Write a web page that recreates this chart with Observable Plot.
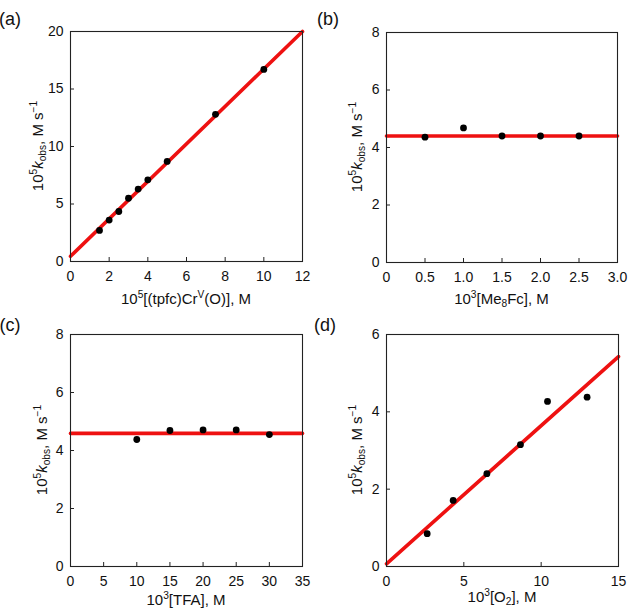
<!DOCTYPE html>
<html><head><meta charset="utf-8">
<script src="https://cdn.jsdelivr.net/npm/d3@7"></script>
<script src="https://cdn.jsdelivr.net/npm/@observablehq/plot@0.6"></script>
<style>
body{margin:0;background:#fff}
#wrap{position:relative;width:629px;height:608px;font-family:"Liberation Sans",Arial,Helvetica,sans-serif}
#wrap svg{position:absolute;overflow:visible}
</style>
</head><body><div id="wrap"></div>
<script>
// Panel (a)
const aX = [1.5, 2, 2.5, 3, 3.5, 4, 5, 7.5, 10];
const aY = [2.7, 3.6, 4.35, 5.5, 6.3, 7.1, 8.7, 12.8, 16.7];
const aFitX = [0, 12], aFitY = [0.45, 20];
const aXTicks = [0, 2, 4, 6, 8, 10, 12], aYTicks = [0, 5, 10, 15, 20];
// Panel (b)
const bX = [0.5, 1.0, 1.5, 2.0, 2.5];
const bY = [4.36, 4.68, 4.4, 4.4, 4.4];
const bFitX = [0, 3], bFitY = [4.4, 4.4];
const bXTicks = [0, 0.5, 1.0, 1.5, 2.0, 2.5, 3.0], bYTicks = [0, 2, 4, 6, 8];
// Panel (c)
const cX = [10, 15, 20, 25, 30];
const cY = [4.38, 4.69, 4.71, 4.71, 4.55];
const cFitX = [0, 35], cFitY = [4.59, 4.59];
const cXTicks = [0, 5, 10, 15, 20, 25, 30, 35], cYTicks = [0, 2, 4, 6, 8];
// Panel (d)
const dX = [2.63, 4.31, 6.49, 8.66, 10.41, 12.97];
const dY = [0.85, 1.71, 2.40, 3.15, 4.27, 4.38];
const dFitX = [0, 15], dFitY = [0.07, 5.43];
const dXTicks = [0, 5, 10, 15], dYTicks = [0, 2, 4, 6];

const yTitle = [["10","n"],["5","sup"],["k","i"],["obs","sub"],[", M s","n"],["\u22121","sup"]];

function rich(sel, parts, fs) {
  let off = 0;
  for (const [t, k] of parts) {
    const target = k === "sup" ? -0.42 * fs : k === "sub" ? 0.22 * fs : 0;
    const ts = sel.append("tspan").text(t).attr("dy", target - off);
    if (k === "sup" || k === "sub") ts.attr("font-size", fs * 0.68);
    if (k === "i") ts.attr("font-style", "italic");
    off = target;
  }
}

function panel(o) {
  const pw = o.w - o.ml - o.mr, ph = o.h - o.mt - o.mb;
  const pts = o.xs.map((x, i) => ({x, y: o.ys[i]}));
  const fit = o.fx.map((x, i) => ({x, y: o.fy[i]}));
  const chart = Plot.plot({
    width: o.w, height: o.h,
    marginLeft: o.ml, marginRight: o.mr, marginTop: o.mt, marginBottom: o.mb,
    style: {fontSize: "14px", fontFamily: "'Liberation Sans', Arial, sans-serif", color: "#111", background: "transparent", overflow: "visible"},
    x: {domain: o.xd, ticks: o.xt, tickSize: 0, tickPadding: 10, tickFormat: o.xf || (d => String(d)), label: null},
    y: {domain: o.yd, ticks: o.yt, tickSize: 0, tickPadding: 7, tickFormat: d => String(d), label: null},
    marks: [
      Plot.ruleX(o.xt, {x: d => d, stroke: "#222", insetTop: ph - 4}),
      Plot.ruleY(o.yt, {y: d => d, stroke: "#222", insetRight: pw - 4}),
      Plot.line(fit, {x: "x", y: "y", stroke: "#ee1111", strokeWidth: 3.6}),
      Plot.dot(pts, {x: "x", y: "y", r: 3.4, fill: "#000"}),
      Plot.frame({stroke: "#222", strokeWidth: 1.1})
    ]
  });
  chart.style.left = o.left + "px";
  chart.style.top = o.top + "px";
  document.getElementById("wrap").appendChild(chart);
  const svg = d3.select(chart);
  const ff = "'Liberation Sans', Arial, sans-serif";
  const xt = svg.append("text").attr("x", o.ml + pw / 2).attr("y", o.xb)
    .attr("text-anchor", "middle").attr("font-size", 15).attr("font-family", ff).attr("fill", "#111");
  rich(xt, o.xl, 15);
  const yt = svg.append("text").attr("transform", `translate(${o.yb},${o.mt + ph / 2}) rotate(-90)`)
    .attr("text-anchor", "middle").attr("font-size", 15).attr("font-family", ff).attr("fill", "#111");
  rich(yt, yTitle, 15);
  svg.append("text").attr("x", o.lx).attr("y", o.ly).attr("font-size", 18).attr("font-family", ff)
    .attr("fill", "#111").text(o.letter);
}

panel({left: 0, top: 0, w: 314, h: 310, ml: 70, mr: 12, mt: 31, mb: 49,
  xd: [0, 12], yd: [0, 20], xt: aXTicks, yt: aYTicks, xs: aX, ys: aY, fx: aFitX, fy: aFitY,
  xl: [["10","n"],["5","sup"],["[(tpfc)Cr","n"],["V","sup"],["(O)], M","n"]],
  xb: 304, yb: 43, letter: "(a)", lx: 10, ly: 25});
panel({left: 314, top: 0, w: 315, h: 310, ml: 72, mr: 12, mt: 32, mb: 48,
  xd: [0, 3], yd: [0, 8], xt: bXTicks, yt: bYTicks, xs: bX, ys: bY, fx: bFitX, fy: bFitY,
  xf: d => d === 0 ? "0" : d.toFixed(1),
  xl: [["10","n"],["3","sup"],["[Me","n"],["8","sub"],["Fc], M","n"]],
  xb: 304, yb: 48, letter: "(b)", lx: 14, ly: 25});
panel({left: 0, top: 300, w: 314, h: 308, ml: 70, mr: 12, mt: 34, mb: 42,
  xd: [0, 35], yd: [0, 8], xt: cXTicks, yt: cYTicks, xs: cX, ys: cY, fx: cFitX, fy: cFitY,
  xl: [["10","n"],["3","sup"],["[TFA], M","n"]],
  xb: 305, yb: 47, letter: "(c)", lx: 10, ly: 31});
panel({left: 314, top: 300, w: 315, h: 308, ml: 72, mr: 11, mt: 34, mb: 42,
  xd: [0, 15], yd: [0, 6], xt: dXTicks, yt: dYTicks, xs: dX, ys: dY, fx: dFitX, fy: dFitY,
  xl: [["10","n"],["3","sup"],["[O","n"],["2","sub"],["], M","n"]],
  xb: 302, yb: 48, letter: "(d)", lx: 11, ly: 31});
</script>
</body></html>
